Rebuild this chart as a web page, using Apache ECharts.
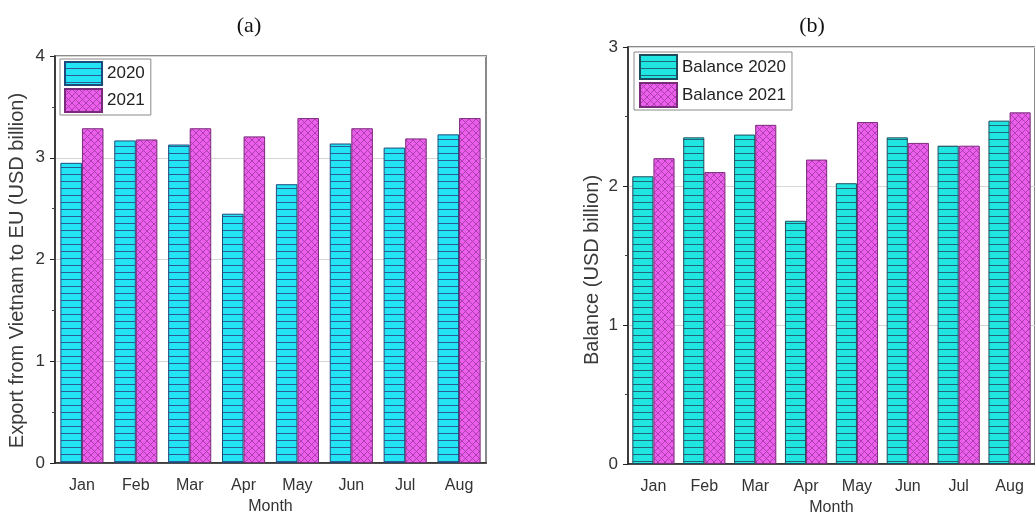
<!DOCTYPE html>
<html>
<head>
<meta charset="utf-8">
<script src="https://cdn.jsdelivr.net/npm/echarts@6/dist/echarts.min.js"></script>
<style>
  html, body { margin: 0; padding: 0; background: #fff; }
  #chart { width: 1035px; height: 529px; }
</style>
</head>
<body>
<div id="chart"></div>
<script>
// Monthly figures, USD billion
const months = ['Jan', 'Feb', 'Mar', 'Apr', 'May', 'Jun', 'Jul', 'Aug'];
const export2020 = [2.95, 3.17, 3.13, 2.45, 2.74, 3.14, 3.10, 3.23];
const export2021 = [3.29, 3.18, 3.29, 3.21, 3.39, 3.29, 3.19, 3.39];
const balance2020 = [2.07, 2.35, 2.37, 1.75, 2.02, 2.35, 2.29, 2.47];
const balance2021 = [2.20, 2.10, 2.44, 2.19, 2.46, 2.31, 2.29, 2.53];

const exportTicks = { min: 0, max: 4, interval: 1 };
const balanceTicks = { min: 0, max: 3, interval: 1 };

const sansFont = '"Liberation Sans", Arial, sans-serif';
const serifFont = '"Liberation Serif", "Times New Roman", serif';

// Fill patterns: horizontal stripes and a diagonal cross-hatch
function stripePattern(base, line) {
  const c = document.createElement('canvas');
  c.width = 8; c.height = 7;
  const g = c.getContext('2d');
  g.fillStyle = base; g.fillRect(0, 0, 8, 7);
  g.fillStyle = line; g.fillRect(0, 6, 8, 1);
  return { image: c, repeat: 'repeat' };
}
function hatchPattern(base, line) {
  const s = 7;
  const c = document.createElement('canvas');
  c.width = s; c.height = s;
  const g = c.getContext('2d');
  g.fillStyle = base; g.fillRect(0, 0, s, s);
  g.strokeStyle = line; g.lineWidth = 0.9;
  g.beginPath();
  g.moveTo(0, 0); g.lineTo(s, s);
  g.moveTo(s, 0); g.lineTo(0, s);
  g.stroke();
  return { image: c, repeat: 'repeat' };
}

const cyanA = stripePattern('#22e4f4', '#2a5d93');
const cyanB = stripePattern('#20e6e2', '#22667a');
const magenta = hatchPattern('#ec5fec', '#a63aa6');

function gridBox(left, top, width, height) {
  return { left, top, width, height, show: true, borderColor: '#8a8a8a', borderWidth: 2, backgroundColor: 'transparent' };
}

function mainX(gridIndex) {
  return {
    type: 'category', gridIndex, data: months,
    axisLine: { lineStyle: { color: '#222', width: 1.5 } },
    axisTick: { alignWithLabel: true, length: 6, lineStyle: { color: '#222' } },
    axisLabel: { color: '#333', fontFamily: sansFont, fontSize: 16, margin: 15 },
    name: 'Month', nameLocation: 'middle', nameGap: 36,
    nameTextStyle: { color: '#333', fontFamily: sansFont, fontSize: 16 },
    splitLine: { show: false }
  };
}
function edgeX(gridIndex) {
  return {
    type: 'category', gridIndex, data: months, position: 'bottom',
    axisLine: { show: false },
    axisTick: { length: 3, lineStyle: { color: '#444' } },
    axisLabel: { show: false }, splitLine: { show: false }
  };
}
function mainY(gridIndex, ticks, title, gap, pad) {
  return {
    type: 'value', gridIndex, min: ticks.min, max: ticks.max, interval: ticks.interval,
    axisLine: { show: true, lineStyle: { color: '#222', width: 1.5 } },
    axisTick: { show: true, length: 5, lineStyle: { color: '#222' } },
    minorTick: { show: true, splitNumber: 2, length: 3, lineStyle: { color: '#444' } },
    axisLabel: { color: '#333', fontFamily: sansFont, fontSize: 17, margin: 10 },
    splitLine: { show: true, lineStyle: { color: '#d6d6d6', width: 1 } },
    name: title, nameLocation: 'middle', nameGap: gap, nameRotate: 90,
    nameTextStyle: { color: '#3a3a3a', fontFamily: sansFont, fontSize: 20, padding: pad }
  };
}

function barSeries(name, data, color, border, xi, yi, catGap) {
  return {
    type: 'bar', name, data, xAxisIndex: xi, yAxisIndex: yi,
    barGap: '0%', barCategoryGap: catGap,
    itemStyle: { color, borderColor: border, borderWidth: 1 },
    emphasis: { disabled: true }
  };
}

const legendText = { color: '#222', fontFamily: sansFont, fontSize: 17 };

const option = {
  animation: false,
  backgroundColor: '#fff',
  title: [
    { text: '(a)', left: 244, top: 10, textAlign: 'center',
      textStyle: { fontFamily: serifFont, fontSize: 22, fontWeight: 'normal', color: '#111' } },
    { text: '(b)', left: 807, top: 10, textAlign: 'center',
      textStyle: { fontFamily: serifFont, fontSize: 22, fontWeight: 'normal', color: '#111' } }
  ],
  grid: [
    gridBox(55, 56, 431, 407),
    gridBox(628, 47, 414, 417)
  ],
  xAxis: [mainX(0), edgeX(0), mainX(1), edgeX(1)],
  yAxis: [
    mainY(0, exportTicks, 'Export from Vietnam to EU (USD billion)', 28, [0, 22, 0, 0]),
    mainY(1, balanceTicks, 'Balance (USD billion)', 26, [0, 29, 0, 0])
  ],
  legend: [
    { data: ['2020', '2021'], orient: 'vertical', left: 60, top: 59, icon: 'rect',
      itemWidth: 37, itemHeight: 23, itemGap: 2, padding: [2, 6, 2, 4],
      borderColor: '#8a8a8a', borderWidth: 1, backgroundColor: '#fff',
      textStyle: legendText, selectedMode: false },
    { data: ['Balance 2020', 'Balance 2021'], orient: 'vertical', left: 634, top: 52, icon: 'rect',
      itemWidth: 37, itemHeight: 24, itemGap: 2, padding: [2, 6, 2, 5],
      borderColor: '#8a8a8a', borderWidth: 1, backgroundColor: '#fff',
      textStyle: legendText, selectedMode: false }
  ],
  series: [
    barSeries('2020', export2020, cyanA, '#1d4a7c', 0, 0, '20%'),
    barSeries('2021', export2021, magenta, '#7a2a7a', 0, 0, '20%'),
    barSeries('Balance 2020', balance2020, cyanB, '#1a4d5e', 2, 1, '17%'),
    barSeries('Balance 2021', balance2021, magenta, '#7a2a7a', 2, 1, '17%')
  ]
};

const chart = echarts.init(document.getElementById('chart'), null, { renderer: 'canvas' });
chart.setOption(option);
</script>
</body>
</html>
